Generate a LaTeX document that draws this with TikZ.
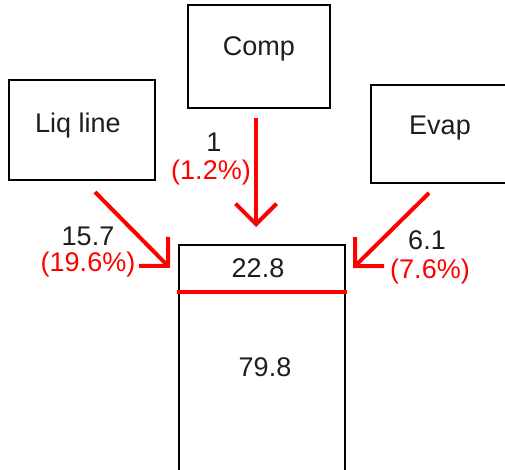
\documentclass[tikz,border=0pt]{standalone}
\usepackage{fontspec}
\setmainfont{Liberation Sans}
\usetikzlibrary{arrows.meta}
\definecolor{txtgray}{RGB}{30,30,30}
\tikzset{
  box/.style={draw=black, line width=1.4pt, rectangle, inner sep=0pt},
  lbl/.style={font=\fontsize{27}{27}\selectfont, text=txtgray, inner sep=0pt},
  pct/.style={font=\fontsize{27}{27}\selectfont, text=red, inner sep=0pt},
  flow/.style={draw=red, line width=4pt, -{Straight Barb[length=20.5pt,width=41pt,line width=4pt]}},
}
\begin{document}
\begin{tikzpicture}[x=1pt,y=-1pt]
\useasboundingbox (0,0) rectangle (505,470);
\fill[white] (0,0) rectangle (505,470);
\clip (0,0) rectangle (505,470);
% boxes
\node[box, minimum width=142pt, minimum height=103pt] (comp) at (259,56.5) {};
\node[box, minimum width=146pt, minimum height=100pt] (liq) at (82,130) {};
\node[box, minimum width=149pt, minimum height=98pt] (evap) at (445.5,134) {};
\node[box, minimum width=166pt, minimum height=240pt] (main) at (262,365) {};
% box texts
\node[lbl] (tcomp) at (259,49) {Comp};
\node[lbl] (tliq) at (78,126) {Liq line};
\node[lbl] (tevap) at (440,128) {Evap};
\node[lbl] (ttop) at (258,268) {22.8};
\node[lbl] (tbot) at (265,367) {79.8};
% divider
\coordinate (dl) at (177,292);
\coordinate (dr) at (347,292);
\draw[red, line width=4pt] (dl) -- (dr);
% arrows
\coordinate (cs) at (256,118);
\coordinate (ce) at (256,227);
\coordinate (ls) at (95,192);
\coordinate (le) at (170,268);
\coordinate (es) at (429,193);
\coordinate (ee) at (353,268);
\draw[flow] (cs) -- (ce);
\draw[flow] (ls) -- (le);
\draw[flow] (es) -- (ee);
% flow labels
\node[lbl] (v1) at (214,142) {1};
\node[pct] (p1) at (211,173) {(1.2\%)};
\node[lbl] (v2) at (88,236.5) {15.7};
\node[pct] (p2) at (88,265) {(19.6\%)};
\node[lbl] (v3) at (427,240) {6.1};
\node[pct] (p3) at (430,272) {(7.6\%)};
\end{tikzpicture}
\end{document}
